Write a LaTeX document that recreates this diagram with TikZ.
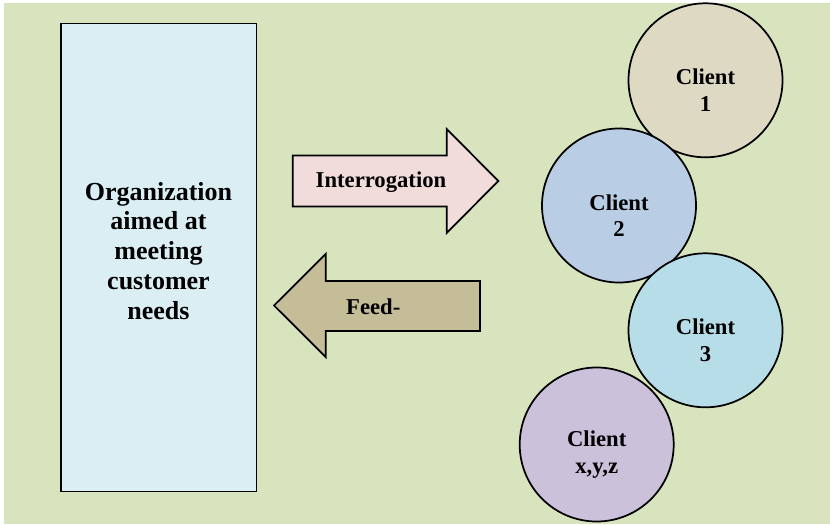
\documentclass[tikz,border=0pt]{standalone}
\usepackage{fontspec}
\setmainfont{Liberation Serif}
\usepackage{xcolor}
\usepackage{tikz}
\usetikzlibrary{positioning,calc}
\definecolor{bggreen}{HTML}{D7E4BD}
\definecolor{orgblue}{HTML}{DAEEF3}
\definecolor{askpink}{HTML}{F2DCDB}
\definecolor{feedtan}{HTML}{C4BD97}
\definecolor{clsand}{HTML}{DDD9C3}
\definecolor{clblue}{HTML}{B9CDE5}
\definecolor{clcyan}{HTML}{B7DDE8}
\definecolor{cllilac}{HTML}{CCC1DA}
\tikzset{
  % one unit = one pixel of the 830x524 sheet, y grows downwards
  orgbox/.style  = {rectangle, draw=black, line width=1.3pt, fill=orgblue,
                    minimum width=146.8pt, minimum height=350.8pt, inner sep=0pt},
  client/.style  = {circle, draw=black, line width=1.3pt, fill=#1,
                    minimum size=115.5pt, inner sep=0pt},
  client/.default = clsand,
  blockarr/.style = {draw=black, line width=1.3pt, fill=#1, line join=miter},
  orgtxt/.style  = {align=center, inner sep=0pt,
                    font=\fontsize{19.5}{22.3}\selectfont\bfseries},
  cltxt/.style   = {align=center, inner sep=0pt,
                    font=\fontsize{17}{20}\selectfont\bfseries},
  arrtxt/.style  = {anchor=base, inner sep=0pt,
                    font=\fontsize{17}{20}\selectfont\bfseries},
}

\begin{document}
\begin{tikzpicture}[x=0.75pt,y=-0.75pt]
\useasboundingbox (0,0) rectangle (830,524);
\fill[bggreen] (4,3) rectangle (830,524);
% organization
\node[orgbox] (org) at (158.5,257.5) {};
\node[orgtxt] (orgt) at ([yshift=5pt]org.center)
  {Organization\\aimed at\\meeting\\customer\\needs};
% block arrows
\draw[blockarr=askpink] (292.7,155.5) -- (446.7,155.5) -- (446.7,129) -- (498.3,181)
  -- (446.7,233) -- (446.7,206.5) -- (292.7,206.5) -- cycle;
\node[arrtxt] (ask) at (381,187.3) {Interrogation};
\draw[blockarr=feedtan] (480,281) -- (325.7,281) -- (325.7,254) -- (274,305.5)
  -- (325.7,357) -- (325.7,331) -- (480,331) -- cycle;
\node[arrtxt] (feed) at (373.3,314) {Feed-};
% clients
\node[client=clsand]  (c1) at (705.5,80.3)  {};
\node[client=clblue]  (c2) at (619,205.5)   {};
\node[client=clcyan]  (c3) at (705.5,330.3) {};
\node[client=cllilac] (cx) at (596.7,444.5) {};
\node[cltxt] (t1) at ([yshift=-7.5pt]c1.center) {Client\\1};
\node[cltxt] (t2) at ([yshift=-7.5pt]c2.center) {Client\\2};
\node[cltxt] (t3) at ([yshift=-7.5pt]c3.center) {Client\\3};
\node[cltxt] (tx) at ([yshift=-7.5pt]cx.center) {Client\\x,y,z};
\end{tikzpicture}
\end{document}
